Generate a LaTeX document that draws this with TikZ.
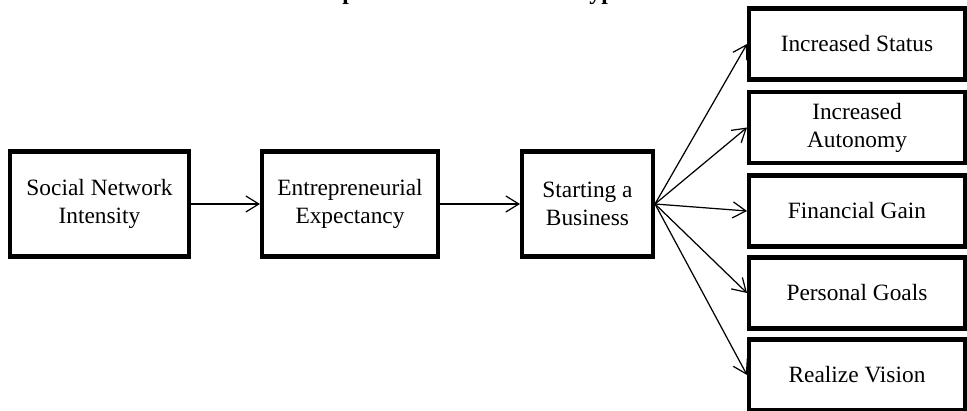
\documentclass[tikz,border=0pt]{standalone}
\usepackage{fontspec}
\setmainfont{Liberation Serif}
\usetikzlibrary{arrows.meta}
\usetikzlibrary{positioning}

\begin{document}
\begin{tikzpicture}[x=0.02cm, y=-0.02cm,
        box/.style={draw, line width=2.3pt, align=center, inner sep=0pt,
            font=\fontsize{13.3}{16}\selectfont},
        inbox/.style={box, minimum height=2.1cm},
        outbox/.style={box, minimum width=4.32cm, minimum height=1.42cm},
        link/.style={-{Straight Barb[length=2.6mm, width=3.2mm]}, line width=0.7pt}]
            \useasboundingbox (0,0) rectangle (967,411);
            \clip (0,0) rectangle (967,411);
            % title, cut by the top edge
            \node[anchor=base, font=\bfseries\fontsize{13.5}{16}\selectfont] (title) at (483,0)
                 {Conceptual Framework and Hypotheses};
            % chain
            \node[inbox, minimum width=3.58cm] (network)  at ( 99.5,204) {Social Network\\Intensity};
            \node[inbox, minimum width=3.52cm] (expect)   at (350,  204) {Entrepreneurial\\Expectancy};
            \node[inbox, minimum width=2.62cm] (business) at (587.5,204) {Starting a\\Business};
            % outcomes
            \node[outbox] (status)   at (857, 44)  {Increased Status};
            \node[outbox] (autonomy) at (857,127.5){Increased\\Autonomy};
            \node[outbox] (gain)     at (857,211)  {Financial Gain};
            \node[outbox] (goals)    at (857,293)  {Personal Goals};
            \node[outbox] (vision)   at (857,375)  {Realize Vision};
            \draw[link] (network) -- (expect);
            \draw[link] (expect) -- (business);
            \foreach \n in {status, autonomy, gain, goals, vision}
                \draw[link] (business.east) -- (\n.west);
        \end{tikzpicture}
\end{document}
